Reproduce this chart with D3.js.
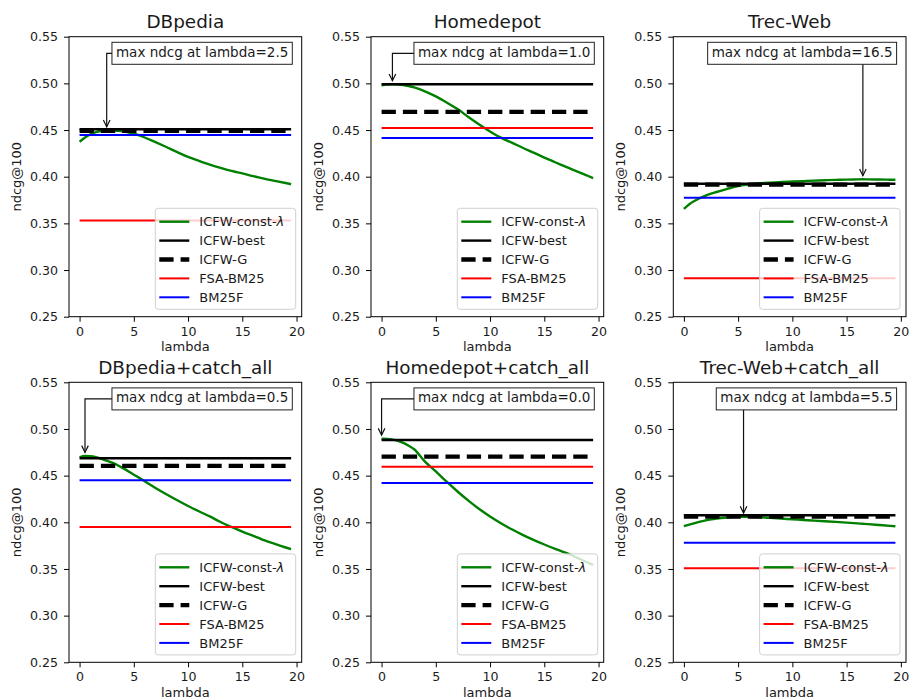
<!DOCTYPE html>
<html>
<head>
<meta charset="utf-8">
<script src="https://cdn.jsdelivr.net/npm/d3@7"></script>
<style>
  body { margin: 0; background: #fff; }
  svg text { font-family: "DejaVu Sans", sans-serif; fill: #1a1a1a; }
</style>
</head>
<body>
<svg id="fig" width="911" height="700"></svg>
<script>
// lambda grid at which the constant-lambda weighting was evaluated
const lambdas = [0, 0.5, 1, 1.5, 2, 2.5, 3, 4, 5, 5.5, 6, 7, 8, 9, 10, 11, 12, 13, 14, 15, 16, 16.5, 17, 18, 19, 19.5];

const titles = ["DBpedia", "Homedepot", "Trec-Web",
                "DBpedia+catch_all", "Homedepot+catch_all", "Trec-Web+catch_all"];

// ICFW-const-lambda: ndcg@100 for each lambda
const dbpediaConst = [0.4375, 0.4420, 0.4455, 0.4478, 0.4490, 0.4495, 0.4494, 0.4485, 0.4460, 0.4442, 0.4420,
  0.4370, 0.4318, 0.4264, 0.4212, 0.4170, 0.4130, 0.4094, 0.4062, 0.4035, 0.4006, 0.3993, 0.3980, 0.3956, 0.3932, 0.3920];
const homedepotConst = [0.4978, 0.4987, 0.4990, 0.4988, 0.4982, 0.4972, 0.4958, 0.4915, 0.4860, 0.4828, 0.4795,
  0.4725, 0.4640, 0.4560, 0.4485, 0.4418, 0.4365, 0.4310, 0.4258, 0.4205, 0.4155, 0.4130, 0.4105, 0.4058, 0.4010, 0.3985];
const trecWebConst = [0.3655, 0.3705, 0.3742, 0.3772, 0.3797, 0.3818, 0.3836, 0.3870, 0.3900, 0.3910, 0.3918,
  0.3930, 0.3937, 0.3943, 0.3948, 0.3953, 0.3958, 0.3962, 0.3966, 0.3969, 0.3971, 0.3972, 0.3971, 0.3970, 0.3968, 0.3967];
const dbpediaCatchConst = [0.4695, 0.4710, 0.4707, 0.4697, 0.4680, 0.4660, 0.4640, 0.4580, 0.4510, 0.4476, 0.4440,
  0.4368, 0.4300, 0.4236, 0.4175, 0.4118, 0.4063, 0.4003, 0.3950, 0.3900, 0.3855, 0.3833, 0.3808, 0.3768, 0.3730, 0.3712];
const homedepotCatchConst = [0.4895, 0.4893, 0.4886, 0.4872, 0.4850, 0.4820, 0.4783, 0.4650, 0.4545, 0.4490, 0.4435,
  0.4330, 0.4232, 0.4142, 0.4062, 0.3990, 0.3925, 0.3866, 0.3812, 0.3762, 0.3716, 0.3694, 0.3672, 0.3622, 0.3568, 0.3543];
const trecWebCatchConst = [0.3958, 0.3975, 0.3992, 0.4008, 0.4021, 0.4032, 0.4041, 0.4052, 0.4058, 0.4060, 0.4059,
  0.4054, 0.4047, 0.4040, 0.4032, 0.4025, 0.4018, 0.4011, 0.4004, 0.3996, 0.3988, 0.3984, 0.3980, 0.3971, 0.3962, 0.3957];
const constLambda = [dbpediaConst, homedepotConst, trecWebConst,
                     dbpediaCatchConst, homedepotCatchConst, trecWebCatchConst];

// flat baselines, one value per panel
const icfwBest = [0.4508, 0.4990, 0.3925, 0.4686, 0.4882, 0.4075];
const icfwG    = [0.4490, 0.4695, 0.3915, 0.4604, 0.4704, 0.4062];
const fsaBm25  = [0.3530, 0.4521, 0.2911, 0.3950, 0.4596, 0.3507];
const bm25f    = [0.4446, 0.4414, 0.3775, 0.4450, 0.4421, 0.3782];

const xTicks = [0, 5, 10, 15, 20];
const yTicks = [0.25, 0.30, 0.35, 0.40, 0.45, 0.50, 0.55];

const seriesNames = ["ICFW-const-", "ICFW-best", "ICFW-G", "FSA-BM25", "BM25F"];
const styles = [
  { color: "#008000", width: 2.4, dash: null },
  { color: "#000000", width: 2.4, dash: null },
  { color: "#000000", width: 4.3, dash: "14.3,7" },
  { color: "#ff0000", width: 2, dash: null },
  { color: "#0000ff", width: 2, dash: null }
];

const colLeft = [69, 371, 673.3];
const rowTop = [36.7, 382.3];
const W = 232.7, H = 280;

const svg = d3.select("#fig");
svg.append("rect").attr("width", 911).attr("height", 700).attr("fill", "#fff");

const x = d3.scaleLinear().domain([-0.975, 20.475]).range([0, W]);
const y = d3.scaleLinear().domain([0.25, 0.55]).range([H, 0]);
const lineGen = d3.line().x(d => x(d[0])).y(d => y(d[1])).curve(d3.curveMonotoneX);
const lamMin = d3.min(lambdas), lamMax = d3.max(lambdas);

titles.forEach((title, i) => {
  const g = svg.append("g")
    .attr("transform", `translate(${colLeft[i % 3]},${rowTop[Math.floor(i / 3)]})`);

  // series: green curve first, then the flat baselines
  const curve = lambdas.map((l, k) => [l, constLambda[i][k]]);
  const flats = [icfwBest[i], icfwG[i], fsaBm25[i], bm25f[i]];
  const all = [curve].concat(flats.map(v => [[lamMin, v], [lamMax, v]]));
  all.forEach((data, s) => {
    const p = g.append("path")
      .attr("d", s === 0 ? lineGen(data) : d3.line().x(d => x(d[0])).y(d => y(d[1]))(data))
      .attr("fill", "none")
      .attr("stroke", styles[s].color)
      .attr("stroke-width", styles[s].width);
    if (styles[s].dash) p.attr("stroke-dasharray", styles[s].dash);
  });

  // axes
  const xa = g.append("g").attr("transform", `translate(0,${H})`)
    .call(d3.axisBottom(x).tickValues(xTicks).tickFormat(d3.format("d")).tickSize(5).tickPadding(5));
  const ya = g.append("g")
    .call(d3.axisLeft(y).tickValues(yTicks).tickFormat(d3.format(".2f")).tickSize(5).tickPadding(6));
  [xa, ya].forEach(a => {
    a.select(".domain").remove();
    a.selectAll("line").attr("stroke", "#000").attr("stroke-width", 1);
    a.selectAll("text").attr("font-size", 12.6).attr("fill", "#1a1a1a")
      .attr("font-family", "DejaVu Sans, sans-serif");
  });
  g.append("rect").attr("width", W).attr("height", H)
    .attr("fill", "none").attr("stroke", "#000").attr("stroke-width", 1);

  // titles and axis labels
  g.append("text").attr("x", W / 2).attr("y", -8.5).attr("text-anchor", "middle")
    .attr("font-size", 18.4).text(title);
  g.append("text").attr("x", W / 2).attr("y", H + 34.8).attr("text-anchor", "middle")
    .attr("font-size", 13).text("lambda");
  g.append("text").attr("transform", `translate(-48,${H / 2}) rotate(-90)`)
    .attr("text-anchor", "middle").attr("font-size", 13).text("ndcg@100");

  // legend, lower right
  const lw = 140.4, lh = 101, lx = W - 6 - lw, ly = H - 7.4 - lh;
  const lg = g.append("g").attr("transform", `translate(${lx},${ly})`);
  lg.append("rect").attr("width", lw).attr("height", lh).attr("rx", 3)
    .attr("fill", "#fff").attr("fill-opacity", 0.8)
    .attr("stroke", "#d0d0d0").attr("stroke-width", 1);
  seriesNames.forEach((name, s) => {
    const ry = 13.4 + s * 18.9;
    const h = lg.append("line").attr("x1", 4).attr("x2", 34).attr("y1", ry).attr("y2", ry)
      .attr("stroke", styles[s].color).attr("stroke-width", styles[s].width);
    if (styles[s].dash) h.attr("stroke-dasharray", styles[s].dash);
    const t = lg.append("text").attr("x", 44).attr("y", ry).attr("dy", "0.36em")
      .attr("font-size", 13).text(name);
    if (s === 0) t.append("tspan").attr("font-style", "italic").text("λ");
  });

  // annotation pointing at the best lambda
  const best = d3.maxIndex(constLambda[i]);
  const bl = lambdas[best], bv = constLambda[i][best];
  const px = x(bl), py = y(bv);
  const ag = g.append("g");
  const label = `max ndcg at lambda=${bl.toFixed(1)}`;
  const tmp = ag.append("text").attr("font-size", 13.5).text(label);
  const tw = tmp.node().getComputedTextLength();
  tmp.remove();
  const bw = tw + 8, bh = 22, bx = W - 9.4 - bw, by = 5.6;
  const tipY = py - 3.6;
  ag.append("path")
    .attr("d", `M${bx + bw / 2},${by + bh / 2}H${px}V${tipY}`)
    .attr("fill", "none").attr("stroke", "#111").attr("stroke-width", 1.2);
  ag.append("path")
    .attr("d", `M${px - 3.3},${tipY - 6.8}L${px},${tipY}L${px + 3.3},${tipY - 6.8}`)
    .attr("fill", "none").attr("stroke", "#111").attr("stroke-width", 1.2);
  ag.append("rect").attr("x", bx).attr("y", by).attr("width", bw).attr("height", bh)
    .attr("fill", "#fff").attr("stroke", "#222").attr("stroke-width", 1);
  ag.append("text").attr("x", bx + 4).attr("y", by + 14.6)
    .attr("font-size", 13.5).text(label);
});
</script>
</body>
</html>
